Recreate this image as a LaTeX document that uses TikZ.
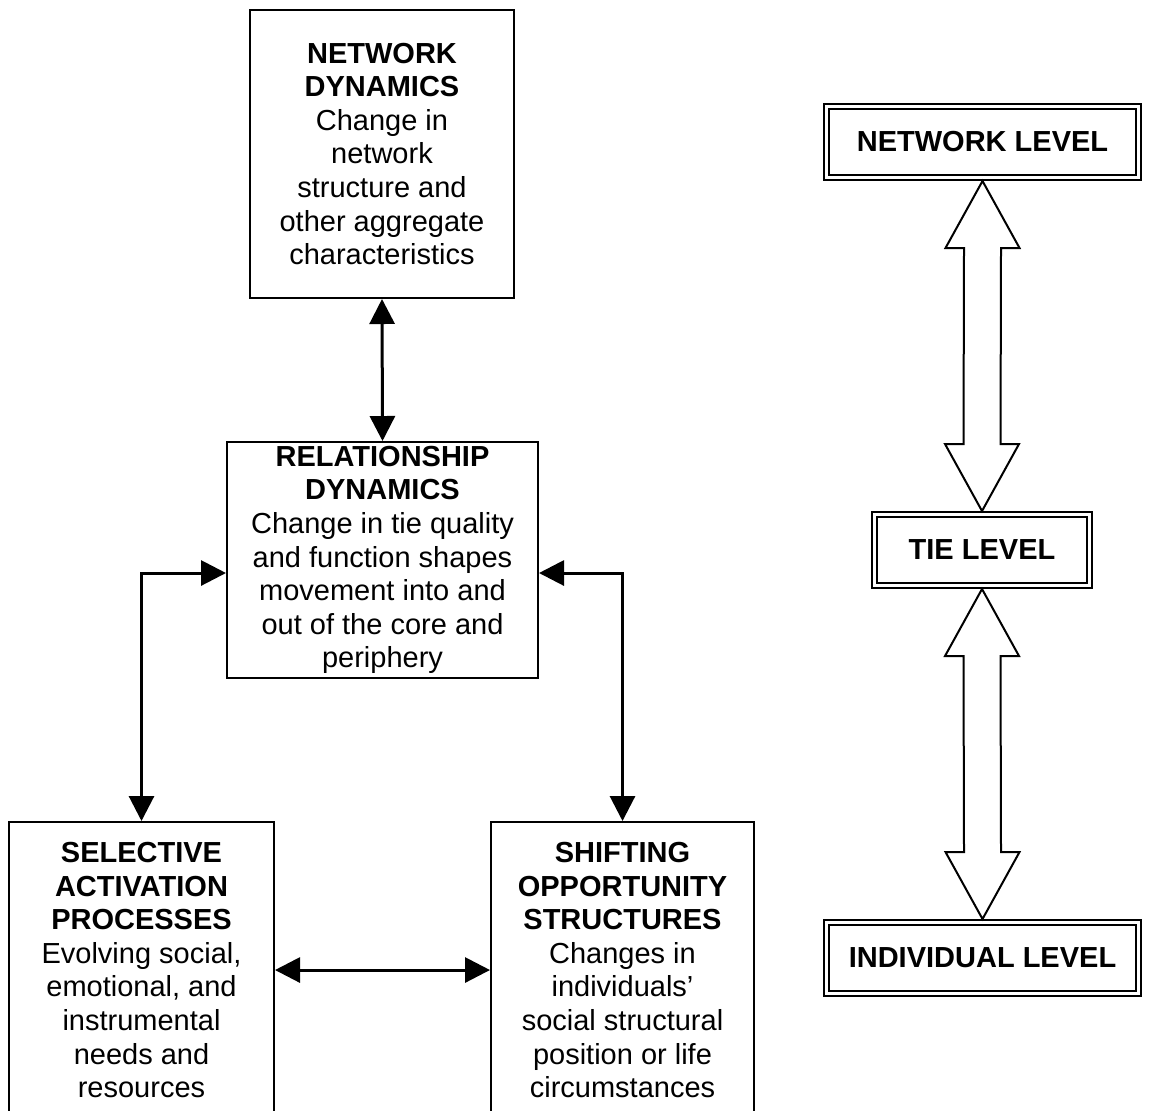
\documentclass[tikz,border=0pt]{standalone}
\usepackage{fontspec}
\setmainfont{Liberation Sans}
\usetikzlibrary{arrows.meta,calc}
\begin{document}
\begin{tikzpicture}[
    x=0.5pt, y=-0.5pt,
    every node/.style={font=\fontsize{14.5}{16.8}\selectfont, align=center, inner sep=0pt},
    dynbox/.style={rectangle, draw, line width=1pt},
    levelbox/.style={rectangle, draw, line width=1pt, double, double distance=1.5pt,
        outer sep=1.75pt, minimum height=35.5pt, font=\fontsize{14.5}{16.8}\selectfont\bfseries},
    link/.style={line width=1.5pt, {Triangle[length=12.5pt, width=12.5pt]}-{Triangle[length=12.5pt, width=12.5pt]}},
    blockarrow/.style={draw, line width=1pt, fill=white, line join=miter}
]
\useasboundingbox (0,0) rectangle (1159,1110);
% dynamics boxes
\node[dynbox, minimum width=132pt, minimum height=144pt] (netdyn) at (382,154)
    {\textbf{NETWORK}\\\textbf{DYNAMICS}\\Change in\\network\\structure and\\other aggregate\\characteristics};
\node[dynbox, minimum width=155.5pt, minimum height=118pt] (reldyn) at (382.5,560)
    {\textbf{RELATIONSHIP}\\\textbf{DYNAMICS}\\Change in tie quality\\and function shapes\\movement into and\\out of the core and\\periphery};
\node[dynbox, minimum width=132.5pt, minimum height=148pt] (selact) at (141.5,970)
    {\textbf{SELECTIVE}\\\textbf{ACTIVATION}\\\textbf{PROCESSES}\\Evolving social,\\emotional, and\\instrumental\\needs and\\resources};
\node[dynbox, minimum width=131.5pt, minimum height=148pt] (shiftop) at (622.5,970)
    {\textbf{SHIFTING}\\\textbf{OPPORTUNITY}\\\textbf{STRUCTURES}\\Changes in\\individuals'\\social structural\\position or life\\circumstances};
% level boxes
\node[levelbox, minimum width=156pt] (netlvl) at (982.5,142) {NETWORK LEVEL};
\node[levelbox, minimum width=107.5pt] (tielvl) at (982,550) {TIE LEVEL};
\node[levelbox, minimum width=156pt] (indlvl) at (982.5,958) {INDIVIDUAL LEVEL};
% links between dynamics
\draw[link] (netdyn.south) -- (reldyn.north);
\draw[link] (selact.north) |- ([yshift=-6.5pt]reldyn.west);
\draw[link] (shiftop.north) |- ([yshift=-6.5pt]reldyn.east);
\draw[link] (selact.east) -- (shiftop.west);
% block arrows between levels
\foreach \a/\b in {netlvl/tielvl, tielvl/indlvl} {
    \draw[blockarrow] (\a.south) -- ($(\a.south)+(37,67)$) -- ($(\a.south)+(18.5,67)$)
        -- ($(\b.north)+(18.5,-67)$) -- ($(\b.north)+(37,-67)$) -- (\b.north)
        -- ($(\b.north)+(-37,-67)$) -- ($(\b.north)+(-18.5,-67)$)
        -- ($(\a.south)+(-18.5,67)$) -- ($(\a.south)+(-37,67)$) -- cycle;
}
\end{tikzpicture}
\end{document}
